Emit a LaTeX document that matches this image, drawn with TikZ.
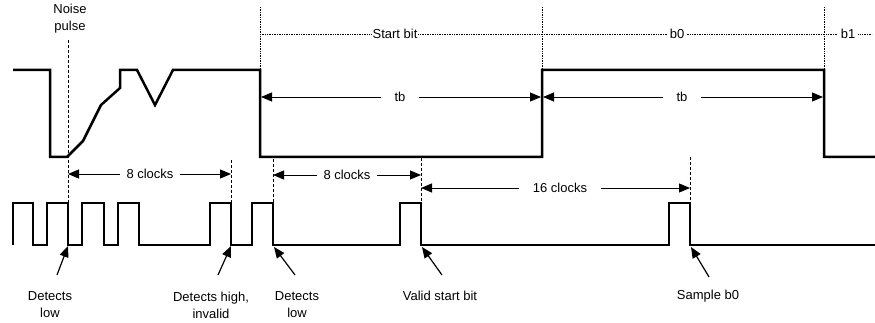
\documentclass[tikz,border=0pt]{standalone}
\usepackage{fontspec}
\setmainfont{Liberation Sans}
\usetikzlibrary{arrows.meta}
\begin{document}
\begin{tikzpicture}[x=1pt,y=-1pt,
  sig/.style={line width=2.5pt, line join=miter},
  clk/.style={line width=1.3pt},
  dimarrow/.style={line width=0.9pt, -{Triangle[length=11pt,width=9pt]}},
  ptr/.style={line width=1.2pt, -{Triangle[length=11pt,width=9pt]}},
  guide/.style={densely dashed, line width=0.8pt},
  dots/.style={densely dotted, line width=0.7pt},
  lbl/.style={font=\fontsize{13}{17}\selectfont, inner sep=1pt, align=center},
  tag/.style={font=\fontsize{13}{17}\selectfont, inner sep=3pt, fill=white}]
\useasboundingbox (0,0) rectangle (875,323);

% receive data signal
\draw[sig] (13,70) -- (50,70) -- (50,157) -- (67,157) -- (83,141) -- (101,105)
  -- (120,88) -- (120,70) -- (137,70) -- (155,105) -- (173,70) -- (260,70)
  -- (260,157) -- (542,157) -- (542,70) -- (824,70) -- (824,157) -- (875,157);

% sampling clock
\draw[clk] (13,245) -- (13,203) -- (33,203) -- (33,245) -- (47,245) -- (47,203)
  -- (68,203) -- (68,245) -- (82,245) -- (82,203) -- (104,203) -- (104,245)
  -- (118,245) -- (118,203) -- (139,203) -- (139,245) -- (210,245) -- (210,203)
  -- (231,203) -- (231,245) -- (252,245) -- (252,203) -- (273,203) -- (273,245)
  -- (400,245) -- (400,203) -- (421,203) -- (421,245) -- (669,245) -- (669,203)
  -- (690,203) -- (690,245) -- (875,245);

% bit boundaries (dotted)
\coordinate (s0t) at (260,7);  \coordinate (s0b) at (260,70);
\coordinate (s1t) at (542,7);  \coordinate (s1b) at (542,70);
\coordinate (s2t) at (824,7);  \coordinate (s2b) at (824,70);
\draw[dots] (s0t) -- (s0b);
\draw[dots] (s1t) -- (s1b);
\draw[dots] (s2t) -- (s2b);
\coordinate (bl) at (260,34); \coordinate (br) at (872,34);
\draw[dots] (bl) -- (br);
\node[tag, inner sep=1pt] (startbit) at (395,34) {Start bit};
\node[tag] (b0) at (677,34) {b0};
\node[tag] (b1) at (848,34) {b1};

% tb arrows
\coordinate (tb1l) at (261,97); \coordinate (tb1r) at (541,97);
\node[lbl, inner sep=13pt] (tb1) at (400,97) {tb};
\draw[dimarrow] (tb1.west) -- (tb1l);
\draw[dimarrow] (tb1.east) -- (tb1r);
\coordinate (tb2l) at (543,97); \coordinate (tb2r) at (823,97);
\node[lbl, inner sep=13pt] (tb2) at (682,97) {tb};
\draw[dimarrow] (tb2.west) -- (tb2l);
\draw[dimarrow] (tb2.east) -- (tb2r);

% dashed guides
\coordinate (g1t) at (68,40);  \coordinate (g1b) at (68,203);
\coordinate (g2t) at (231,160); \coordinate (g2b) at (231,203);
\coordinate (g3t) at (273,159); \coordinate (g3b) at (273,203);
\coordinate (g4t) at (421,158); \coordinate (g4b) at (421,203);
\coordinate (g5t) at (690,157); \coordinate (g5b) at (690,203);
\draw[guide] (g1t) -- (g1b);
\draw[guide] (g2t) -- (g2b);
\draw[guide] (g3t) -- (g3b);
\draw[guide] (g4t) -- (g4b);
\draw[guide] (g5t) -- (g5b);

% clock count arrows
\node[lbl, inner sep=6pt] (c8a) at (150,174) {8 clocks};
\draw[dimarrow] (c8a.west) -- (68,174);
\draw[dimarrow] (c8a.east) -- (231,174);
\node[lbl, inner sep=6pt] (c8b) at (347,175) {8 clocks};
\draw[dimarrow] (c8b.west) -- (273,175);
\draw[dimarrow] (c8b.east) -- (421,175);
\node[lbl, inner sep=14pt] (c16) at (560,188) {16 clocks};
\draw[dimarrow] (c16.west) -- (421,188);
\draw[dimarrow] (c16.east) -- (690,188);

% noise pulse label
\node[lbl] (noise) at (70,19) {Noise\\pulse};

% event labels and pointers
\node[lbl] (e1) at (50,305) {Detects\\low};
\node[lbl] (e2) at (211,305) {Detects high,\\invalid};
\node[lbl] (e3) at (297,305) {Detects\\low};
\node[lbl] (e4) at (440,296) {Valid start bit};
\node[lbl] (e5) at (708,296) {Sample b0};
\coordinate (h1) at (68,246);  \coordinate (t1) at (57,275);
\coordinate (h2) at (231,246); \coordinate (t2) at (218,275);
\coordinate (h3) at (274,247); \coordinate (t3) at (295,275);
\coordinate (h4) at (422,247); \coordinate (t4) at (442,275);
\coordinate (h5) at (691,247); \coordinate (t5) at (709,277);
\draw[ptr] (t1) -- (h1);
\draw[ptr] (t2) -- (h2);
\draw[ptr] (t3) -- (h3);
\draw[ptr] (t4) -- (h4);
\draw[ptr] (t5) -- (h5);
\end{tikzpicture}
\end{document}
